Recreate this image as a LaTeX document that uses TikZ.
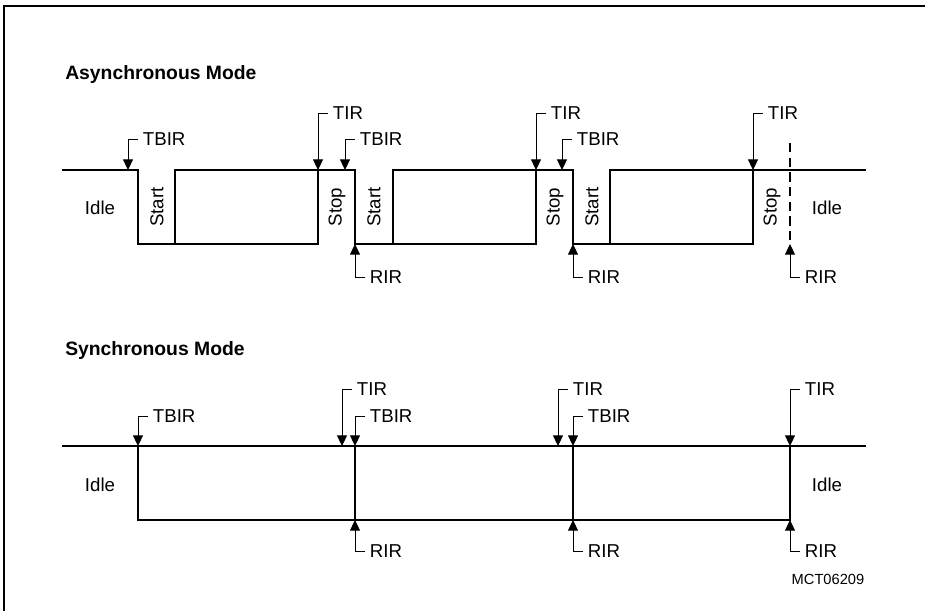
\documentclass[tikz,border=0pt]{standalone}
\usepackage{fontspec}
\setmainfont{Liberation Sans}
\usetikzlibrary{arrows.meta,positioning}

\begin{document}
\begin{tikzpicture}[x=0.75pt, y=-0.75pt, every node/.style={font=\fontsize{14}{16}\selectfont}]
  \tikzset{wave/.style={line width=1.8pt, line cap=rect, line join=miter}, marker/.style={line width=0.75pt, -{Triangle[length=8pt, width=7.5pt]}}, lbl/.style={anchor=west, inner sep=3.5pt}, bitlbl/.style={rotate=90, inner sep=0pt}, title/.style={anchor=west, inner sep=0pt, font=\fontsize{14.5}{16}\selectfont\bfseries}, frame/.style={line width=1.5pt}}
  \useasboundingbox (0,0) rectangle (925,611);
  \draw[frame] (4,611) -- (4,6) -- (925,6);

  % asynchronous mode
  \node[title] (async) at (65,74) {Asynchronous Mode};
  \draw[wave] (63,170) -- (138,170) -- (138,244) -- (318,244) -- (318,170);
  \draw[wave] (175,244) -- (175,170) -- (355,170) -- (355,244) -- (536,244) -- (536,170);
  \draw[wave] (393,244) -- (393,170) -- (573,170) -- (573,244) -- (753,244) -- (753,170);
  \draw[wave] (610,244) -- (610,170) -- (865,170);
  \draw[line width=0.9pt, dash pattern=on 7pt off 4pt] (790,143) -- (790,244);
  \node (aidle1) at (100,208) {Idle};
  \node (aidle2) at (827,208) {Idle};
  \node[bitlbl] (start1) at (157,207) {Start};
  \node[bitlbl] (stop1) at (337,207) {Stop};
  \node[bitlbl] (start2) at (374,207) {Start};
  \node[bitlbl] (stop2) at (555,207) {Stop};
  \node[bitlbl] (start3) at (592,207) {Start};
  \node[bitlbl] (stop3) at (772,207) {Stop};
  \coordinate (at1) at (128,170);
  \coordinate (at2) at (318,170);
  \coordinate (at3) at (345,170);
  \coordinate (at4) at (536,170);
  \coordinate (at5) at (562,170);
  \coordinate (at6) at (753,170);
  \coordinate (ar1) at (355,244);
  \coordinate (ar2) at (573,244);
  \coordinate (ar3) at (790,244);
  \node[lbl] (atbir1) at (138,139) {TBIR};
  \node[lbl] (atir1) at (328,113) {TIR};
  \node[lbl] (atbir2) at (355,139) {TBIR};
  \node[lbl] (atir2) at (546,113) {TIR};
  \node[lbl] (atbir3) at (572,139) {TBIR};
  \node[lbl] (atir3) at (763,113) {TIR};
  \node[lbl] (arir1) at (365,277) {RIR};
  \node[lbl] (arir2) at (583,277) {RIR};
  \node[lbl] (arir3) at (800,277) {RIR};
  \draw[marker] (atbir1.west) -| (at1);
  \draw[marker] (atir1.west) -| (at2);
  \draw[marker] (atbir2.west) -| (at3);
  \draw[marker] (atir2.west) -| (at4);
  \draw[marker] (atbir3.west) -| (at5);
  \draw[marker] (atir3.west) -| (at6);
  \draw[marker] (arir1.west) -| (ar1);
  \draw[marker] (arir2.west) -| (ar2);
  \draw[marker] (arir3.west) -| (ar3);

  % synchronous mode
  \node[title] (sync) at (65,350) {Synchronous Mode};
  \draw[wave] (63,446) -- (865,446);
  \draw[wave] (138,446) -- (138,520) -- (790,520) -- (790,446);
  \draw[wave] (355,446) -- (355,520);
  \draw[wave] (573,446) -- (573,520);
  \node (sidle1) at (100,485) {Idle};
  \node (sidle2) at (827,485) {Idle};
  \coordinate (st1) at (138,446);
  \coordinate (st2) at (342,446);
  \coordinate (st3) at (355,446);
  \coordinate (st4) at (558,446);
  \coordinate (st5) at (573,446);
  \coordinate (st6) at (790,446);
  \coordinate (sr1) at (355,520);
  \coordinate (sr2) at (573,520);
  \coordinate (sr3) at (790,520);
  \node[lbl] (stbir1) at (148,416) {TBIR};
  \node[lbl] (stir1) at (352,389) {TIR};
  \node[lbl] (stbir2) at (365,416) {TBIR};
  \node[lbl] (stir2) at (568,389) {TIR};
  \node[lbl] (stbir3) at (583,416) {TBIR};
  \node[lbl] (stir3) at (800,389) {TIR};
  \node[lbl] (srir1) at (365,551) {RIR};
  \node[lbl] (srir2) at (583,551) {RIR};
  \node[lbl] (srir3) at (800,551) {RIR};
  \draw[marker] (stbir1.west) -| (st1);
  \draw[marker] (stir1.west) -| (st2);
  \draw[marker] (stbir2.west) -| (st3);
  \draw[marker] (stir2.west) -| (st4);
  \draw[marker] (stbir3.west) -| (st5);
  \draw[marker] (stir3.west) -| (st6);
  \draw[marker] (srir1.west) -| (sr1);
  \draw[marker] (srir2.west) -| (sr2);
  \draw[marker] (srir3.west) -| (sr3);
  \node[font=\fontsize{11}{12}\selectfont] (code) at (828,579) {MCT06209};
\end{tikzpicture}
\end{document}
